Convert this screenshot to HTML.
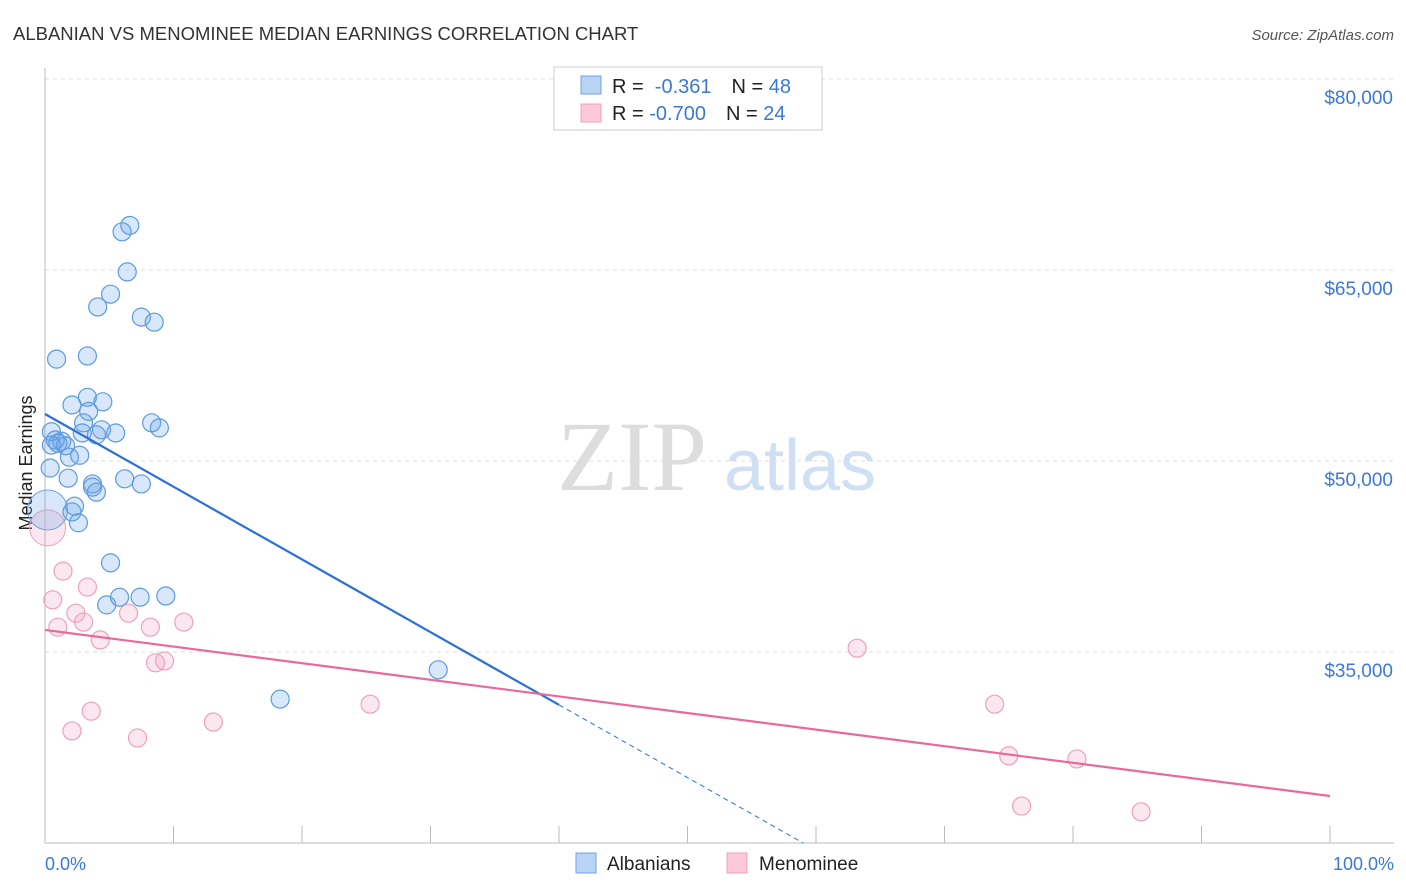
<!DOCTYPE html>
<html><head><meta charset="utf-8"><style>
body{margin:0;background:#fff;font-family:"Liberation Sans",sans-serif;}
svg{display:block}
</style></head><body>
<svg id="c" width="1406" height="892" xmlns="http://www.w3.org/2000/svg">
<text x="13" y="40" font-size="18.5" fill="#333">ALBANIAN VS MENOMINEE MEDIAN EARNINGS CORRELATION CHART</text>
<text x="1394" y="40" font-size="15" fill="#555" font-style="italic" text-anchor="end">Source: ZipAtlas.com</text>
<g>
<text x="632" y="490" font-size="100" fill="#ddd" font-family="Liberation Serif,serif" text-anchor="middle">ZIP</text>
<text x="800" y="490" font-size="72" fill="#cfe0f5" text-anchor="middle">atlas</text>
</g>
<g id="grid"></g>
<line x1="45" y1="68" x2="45" y2="843" stroke="#bbb"/>
<line x1="45" y1="843" x2="1394" y2="843" stroke="#bbb"/>
<text x="24" y="455" font-size="18" fill="#222" transform="rotate(-90 32 455)" text-anchor="middle">Median Earnings</text>
<text x="45" y="870" font-size="18" fill="#3b78d8">0.0%</text>
<text x="1394" y="870" font-size="18" fill="#3b78d8" text-anchor="end">100.0%</text>
<g id="marks"></g>
<g>
<rect x="554" y="67" width="268" height="63" fill="#fff" stroke="#ccc"/>
<rect x="581" y="76" width="20" height="18" fill="#b9d3f5" stroke="#6fa3e6"/>
<rect x="581" y="104" width="20" height="18" fill="#fbc9d9" stroke="#f0a0bc"/>
<text x="612" y="93" font-size="20" fill="#222">R = <tspan fill="#3b78d8">&#160;-0.361</tspan><tspan dx="20">N = </tspan><tspan fill="#3b78d8">48</tspan></text>
<text x="612" y="120" font-size="20" fill="#222">R = <tspan fill="#3b78d8">-0.700</tspan><tspan dx="20">N = </tspan><tspan fill="#3b78d8">24</tspan></text>
</g>
<g>
<rect x="576" y="853" width="20" height="20" fill="#b9d3f5" stroke="#6fa3e6"/>
<text x="607" y="870" font-size="19" fill="#222">Albanians</text>
<rect x="727" y="853" width="20" height="20" fill="#fbc9d9" stroke="#f0a0bc"/>
<text x="759" y="870" font-size="19" fill="#222">Menominee</text>
</g>
</svg>
<script>
const yTicks=[35000,50000,65000,80000];
const yTickLabels=["$35,000","$50,000","$65,000","$80,000"];
const blueX=[6.6,6.0,6.4,5.1,4.1,7.5,8.5,0.9,3.3,3.3,2.1,4.5,3.4,3.0,8.3,8.9,4.4,5.5,2.9,4.0,0.5,0.8,1.3,1.0,1.6,0.5,1.9,2.7,0.4,1.8,6.2,3.7,3.7,4.0,7.5,2.3,2.1,2.6,5.1,4.8,5.8,7.4,9.4,18.3,30.6];
const blueY=[68500,68000,64850,63100,62100,61300,60900,58000,58250,55000,54400,54650,53900,53000,53000,52600,52450,52200,52200,52050,52300,51650,51550,51400,51200,51250,50300,50450,49450,48650,48600,48200,47950,47550,48200,46450,46000,45150,42000,38700,39300,39300,39400,31300,33600];
const pinkX=[1.4,0.6,3.3,2.4,1.0,3.0,6.5,10.8,8.2,4.3,8.6,9.3,3.6,2.1,7.2,13.1,25.3,63.2,73.9,75.0,80.3,76.0,85.3];
const pinkY=[41350,39100,40100,38050,36950,37350,38050,37350,36950,35950,34150,34300,30350,28800,28250,29500,30900,35300,30900,26850,26600,22900,22450];
const blueTrend=[53690,-571];
const pinkTrend=[36730,-130.4];
const X0=45,X1=1330,Y0=843,Y1=79,VMIN=20000,VMAX=80000;
const sx=p=>X0+(X1-X0)*p/100;
const sy=v=>Y0-(Y0-Y1)*(v-VMIN)/(VMAX-VMIN);
const NS="http://www.w3.org/2000/svg";
function mk(t,a,parent){const e=document.createElementNS(NS,t);for(const k in a)e.setAttribute(k,a[k]);parent.appendChild(e);return e;}
const grid=document.getElementById('grid'),marks=document.getElementById('marks');
yTicks.forEach((v,i)=>{
 const l=mk('line',{x1:45,x2:1394,y1:sy(v),y2:sy(v),stroke:'#ddd','stroke-dasharray':'4,4'},grid);
 
 
 const t=mk('text',{x:1393,y:sy(v)+25,'font-size':19,fill:'#3b78d8','text-anchor':'end'},grid);
 t.textContent=yTickLabels[i];
 
 
});
for(let i=0;i<=10;i++){const l=mk('line',{x1:sx(i*10),x2:sx(i*10),y1:826,y2:843,stroke:'#bbb'},grid);
 
 }
let b=mk('circle',{cx:sx(0.2),cy:sy(44750),r:18,fill:'rgba(240,160,190,0.25)',stroke:'#f0a0bc'},marks);


b=mk('circle',{cx:sx(0.2),cy:sy(46150),r:20,fill:'rgba(100,160,230,0.25)',stroke:'#6fa3e6'},marks);


pinkX.forEach((x,i)=>{const c=mk('circle',{cx:sx(x),cy:sy(pinkY[i]),r:9,fill:'rgba(240,160,190,0.25)',stroke:'#f0a0bc','stroke-width':1.2},marks);
 
 });
blueX.forEach((x,i)=>{const c=mk('circle',{cx:sx(x),cy:sy(blueY[i]),r:9,fill:'rgba(100,160,230,0.25)',stroke:'#5b9be0','stroke-width':1.2},marks);
 
 });
const bEnd=(VMIN-blueTrend[0])/blueTrend[1];
let t1=mk('line',{x1:sx(0),y1:sy(blueTrend[0]),x2:sx(40),y2:sy(blueTrend[0]+blueTrend[1]*40),stroke:'#2a70d8','stroke-width':2.2},marks);


let t2=mk('line',{x1:sx(40),y1:sy(blueTrend[0]+blueTrend[1]*40),x2:sx(bEnd),y2:sy(VMIN),stroke:'#2a70d8','stroke-width':1,'stroke-dasharray':'5,4'},marks);


let t3=mk('line',{x1:sx(0),y1:sy(pinkTrend[0]),x2:sx(100),y2:sy(pinkTrend[0]+pinkTrend[1]*100),stroke:'#e8699a','stroke-width':2.2},marks);


</script>
</body></html>
